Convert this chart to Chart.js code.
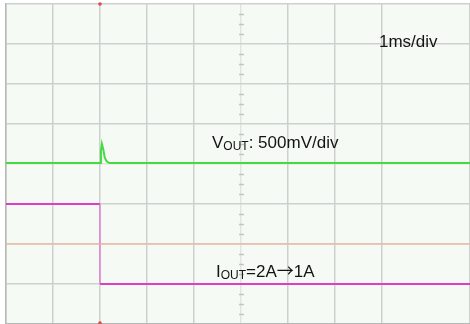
<!DOCTYPE html>
<html>
<head>
<meta charset="utf-8">
<script src="https://cdn.jsdelivr.net/npm/chart.js@4.4.1/dist/chart.umd.min.js"></script>
<style>
  html, body { margin: 0; padding: 0; background: #ffffff; }
  canvas { display: block; }
</style>
</head>
<body>
<canvas id="scopeChart" width="470" height="324"></canvas>
<script>
// Zeitbasis: 1 ms/div, Trigger bei 2 ms
var triggerMs = 2.0;

// VOUT (AC, Abweichung in mV), 500 mV/div
var voutTime = [0, 2.0, 2.02, 2.04, 2.07, 2.1, 2.14, 2.2, 9.9];
var voutMv   = [0, 0, 150, 240, 170, 70, 20, 0, 0];

// IOUT in A, 0.5 A/div  (2A -> 1A)
var ioutTime = [0, 2.0, 2.0, 9.9];
var ioutA    = [2, 2, 1, 1];

// Kanal-Einstellungen (Lage auf dem Schirm in div)
var voutScale = 500, voutOffset = 0.025;
var ioutScale = 0.5, ioutOffset = -5;
var refMarkerDiv = -2;

function toPoints(t, v, scale, offset) {
    return t.map(function (x, i) { return { x: x, y: offset + v[i] / scale }; });
}

var magenta = '#e03cc8';

// Hintergrund, Mittelachse mit Teilstrichen, Triggermarken, Beschriftung
var scopeDecor = {
    id: 'scopeDecor',
    beforeDraw: function (chart) {
        var c = chart.ctx, a = chart.chartArea;
        c.save();
        c.fillStyle = '#f5faf5';
        c.fillRect(a.left, a.top, a.right - a.left, a.bottom - a.top);
        c.restore();
    },
    beforeDatasetsDraw: function (chart) {
        var c = chart.ctx, xs = chart.scales.x, ys = chart.scales.y;
        c.save();
        c.strokeStyle = '#c2c6c2';
        c.lineWidth = 1.5;
        var cx = Math.round(xs.getPixelForValue(5)) + 0.5;
        for (var v = -4; v <= 4; v += 0.25) {
            if (v % 1 === 0) continue;
            var py = Math.round(ys.getPixelForValue(v)) + 0.5;
            c.beginPath();
            c.moveTo(cx - 2.5, py);
            c.lineTo(cx + 2.5, py);
            c.stroke();
        }
        c.restore();
    },
    afterDatasetsDraw: function (chart) {
        var c = chart.ctx, xs = chart.scales.x, a = chart.chartArea;
        c.save();
        // Triggermarken
        var tx = xs.getPixelForValue(triggerMs);
        c.fillStyle = '#e04848';
        [a.top, a.bottom - 1].forEach(function (py) {
            c.beginPath();
            c.arc(tx, py, 1.8, 0, Math.PI * 2);
            c.fill();
        });
        // Text
        c.fillStyle = '#141414';
        c.textBaseline = 'alphabetic';
        drawParts(c, 379, 47, [{ t: '1ms/div', s: 17 }]);
        drawParts(c, 212, 148, [{ t: 'V', s: 17 }, { t: 'OUT', s: 12, dy: 2 }, { t: ': 500mV/div', s: 17 }]);
        drawParts(c, 216, 277, [{ t: 'I', s: 17 }, { t: 'OUT', s: 12, dy: 2 }, { t: '=2A', s: 17 },
            { t: '\u2192', s: 17, f: '"Noto Sans CJK JP"' }, { t: '1A', s: 17 }]);
        c.restore();
    }
};

function drawParts(c, x, y, parts) {
    parts.forEach(function (p) {
        c.font = p.s + 'px ' + (p.f || '"Liberation Sans", Arial, sans-serif');
        c.fillText(p.t, x, y + (p.dy || 0));
        x += c.measureText(p.t).width;
    });
}

function gridColor(ctx) {
    return ctx.tick && ctx.tick.value === (ctx.scale.axis === 'x' ? 5 : 0) ? 'rgba(200,205,200,0.45)' : '#cdd1cd';
}

var ctxScope = document.getElementById('scopeChart').getContext('2d');
var scopeChart = new Chart(ctxScope, {
    type: 'line',
    data: {
        datasets: [{
            label: 'Ref',
            data: [{ x: 0, y: refMarkerDiv }, { x: 9.9, y: refMarkerDiv }],
            borderColor: 'rgba(240,180,160,0.8)',
            borderWidth: 1.5
        }, {
            label: 'IOUT',
            data: toPoints(ioutTime, ioutA, ioutScale, ioutOffset),
            borderColor: magenta,
            borderWidth: 2,
            segment: {
                borderColor: function (s) { return s.p0.parsed.x === s.p1.parsed.x ? 'rgba(230,110,210,0.55)' : undefined; },
                borderWidth: function (s) { return s.p0.parsed.x === s.p1.parsed.x ? 1 : undefined; }
            }
        }, {
            label: 'VOUT',
            data: toPoints(voutTime, voutMv, voutScale, voutOffset),
            borderColor: '#42dc42',
            borderWidth: 2
        }]
    },
    options: {
        responsive: false,
        animation: false,
        devicePixelRatio: 1,
        layout: { padding: { left: 6, top: 4, right: 0, bottom: 0 } },
        elements: { point: { radius: 0 }, line: { tension: 0 } },
        plugins: { legend: { display: false }, tooltip: { enabled: false } },
        scales: {
            x: {
                type: 'linear',
                min: 0,
                max: 464 / 47,
                ticks: { display: false, stepSize: 1 },
                grid: { color: gridColor, lineWidth: 1.5, drawTicks: false },
                border: { color: '#b5b9b5', width: 1.5 },
                afterFit: function (s) { s.height = 0; }
            },
            y: {
                min: -4,
                max: 4,
                ticks: { display: false, stepSize: 1 },
                grid: { color: gridColor, lineWidth: 1.5, drawTicks: false },
                border: { color: '#b5b9b5', width: 1.5 },
                afterFit: function (s) { s.width = 0; }
            }
        }
    },
    plugins: [scopeDecor]
});
</script>
</body>
</html>
